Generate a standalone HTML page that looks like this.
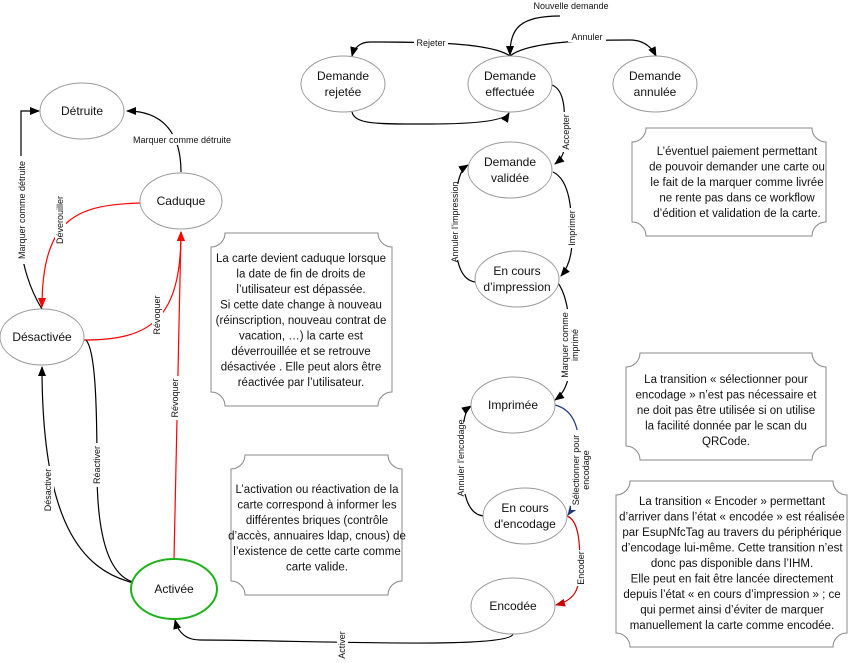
<!DOCTYPE html>
<html><head><meta charset="utf-8"><style>
html,body{margin:0;padding:0;background:#fff;}
svg{display:block;font-family:"Liberation Sans",sans-serif;}
.n{fill:#fff;stroke:#999;stroke-width:1;}
.t{font-size:12px;fill:#111;text-anchor:middle;}
.l{font-size:9px;fill:#111;text-anchor:middle;}
.c{fill:none;stroke:#000;stroke-width:1.2;}
.note{fill:#fff;stroke:#888;stroke-width:1;}
.nt{font-size:11.5px;fill:#111;text-anchor:middle;}
</style></head><body>
<svg width="862" height="663" viewBox="0 0 862 663" xmlns="http://www.w3.org/2000/svg">
<defs>
<marker id="ab" markerWidth="10" markerHeight="8" refX="9" refY="4" orient="auto" markerUnits="userSpaceOnUse"><path d="M0,0 L10,4 L0,8 z" fill="#000"/></marker>
<marker id="ar" markerWidth="10" markerHeight="8" refX="9" refY="4" orient="auto" markerUnits="userSpaceOnUse"><path d="M0,0 L10,4 L0,8 z" fill="#f00"/></marker>
<marker id="abl" markerWidth="10" markerHeight="8" refX="9" refY="4" orient="auto" markerUnits="userSpaceOnUse"><path d="M0,0 L10,4 L0,8 z" fill="#1f3a7a"/></marker>
<marker id="adr" markerWidth="10" markerHeight="8" refX="9" refY="4" orient="auto" markerUnits="userSpaceOnUse"><path d="M0,0 L10,4 L0,8 z" fill="#c00"/></marker>
</defs>

<!-- notes -->
<path class="note" d="M225,233 L378,233 A14,14 0 0 0 392,247 L392,392 A14,14 0 0 0 378,406 L225,406 A14,14 0 0 0 211,392 L211,247 A14,14 0 0 0 225,233 Z"/>
<path class="note" d="M646,128 L812,128 A14,14 0 0 0 826,142 L826,222 A14,14 0 0 0 812,236 L646,236 A14,14 0 0 0 632,222 L632,142 A14,14 0 0 0 646,128 Z"/>
<path class="note" d="M245,455 L388,455 A14,14 0 0 0 402,469 L402,581 A14,14 0 0 0 388,595 L245,595 A14,14 0 0 0 231,581 L231,469 A14,14 0 0 0 245,455 Z"/>
<path class="note" d="M640,353 L812,353 A14,14 0 0 0 826,367 L826,446 A14,14 0 0 0 812,460 L640,460 A14,14 0 0 0 626,446 L626,367 A14,14 0 0 0 640,353 Z"/>
<path class="note" d="M630,481 L833,481 A14,14 0 0 0 847,495 L847,633 A14,14 0 0 0 833,647 L630,647 A14,14 0 0 0 616,633 L616,495 A14,14 0 0 0 630,481 Z"/>

<g class="nt">
<text x="301" y="262">La carte devient caduque lorsque</text>
<text x="301" y="277.5">la date de fin de droits de</text>
<text x="301" y="293">l’utilisateur est dépassée.</text>
<text x="301" y="308.5">Si cette date change à nouveau</text>
<text x="301" y="324">(réinscription, nouveau contrat de</text>
<text x="301" y="339.5">vacation, …) la carte est</text>
<text x="301" y="355">déverrouillée et se retrouve</text>
<text x="301" y="370.5">désactivée . Elle peut alors être</text>
<text x="301" y="386">réactivée par l’utilisateur.</text>

<text x="737" y="155">L’éventuel paiement permettant</text>
<text x="737" y="170.5">de pouvoir demander une carte ou</text>
<text x="737" y="186">le fait de la marquer comme livrée</text>
<text x="737" y="201.5">ne rente pas dans ce workflow</text>
<text x="737" y="217">d’édition et validation de la carte.</text>

<text x="317" y="493">L’activation ou réactivation de la</text>
<text x="317" y="508.5">carte correspond à informer les</text>
<text x="317" y="524">différentes briques (contrôle</text>
<text x="317" y="539.5">d’accès, annuaires ldap, cnous) de</text>
<text x="317" y="555">l’existence de cette carte comme</text>
<text x="317" y="570.5">carte valide.</text>

<text x="726" y="383">La transition « sélectionner pour</text>
<text x="726" y="398.5">encodage » n’est pas nécessaire et</text>
<text x="726" y="414">ne doit pas être utilisée si on utilise</text>
<text x="726" y="429.5">la facilité donnée par le scan du</text>
<text x="726" y="445">QRCode.</text>

<text x="732" y="505">La transition « Encoder » permettant</text>
<text x="732" y="520.5">d’arriver dans l’état « encodée » est réalisée</text>
<text x="732" y="536">par EsupNfcTag au travers du périphérique</text>
<text x="732" y="551.5">d’encodage lui-même. Cette transition n’est</text>
<text x="732" y="567">donc pas disponible dans l’IHM.</text>
<text x="732" y="582.5">Elle peut en fait être lancée directement</text>
<text x="732" y="598">depuis l’état « en cours d’impression » ; ce</text>
<text x="732" y="613.5">qui permet ainsi d’éviter de marquer</text>
<text x="732" y="629">manuellement la carte comme encodée.</text>
</g>

<!-- connectors -->
<path class="c" d="M181,172 C181,130 160,111 127,111" marker-end="url(#ab)"/>
<path class="c" d="M42,309 C30,290 21,262 21,240 L21,111 L39,111" marker-end="url(#ab)"/>
<path class="c" style="stroke:#f00" d="M140,203 C80,205 42,215 42,307" marker-end="url(#ar)"/>
<path class="c" style="stroke:#f00" d="M84,340 C150,340 181,320 181,232" marker-end="url(#ar)"/>
<path class="c" style="stroke:#f00" d="M174,559 L181,232" marker-end="url(#ar)"/>
<path class="c" d="M86,340 C95,350 97,400 97,470 C97,540 110,575 133,582"/>
<path class="c" d="M134,583 C80,570 42,520 42,367" marker-end="url(#ab)"/>
<path class="c" d="M513,634 C510,650 300,640 200,640 C185,640 178,632 175,620" marker-end="url(#ab)"/>
<path class="c" d="M560,16 C520,16 510,28 510,55" marker-end="url(#ab)"/>
<path class="c" d="M510,56 C490,42 420,42 370,42 C360,42 354,48 352,56" marker-end="url(#ab)"/>
<path class="c" d="M510,56 C530,40 600,40 630,40 C645,40 652,48 656,56" marker-end="url(#ab)"/>
<path class="c" d="M352,112 C355,125 380,124 430,124 C480,124 505,120 509,113" marker-end="url(#ab)"/>
<path class="c" d="M552,85 C565,90 565,110 565,140 C565,155 560,160 555,164" marker-end="url(#ab)"/>
<path class="c" d="M553,172 C570,180 572,210 572,240 C572,260 566,270 561,276" marker-end="url(#ab)"/>
<path class="c" d="M475,282 C462,280 455,265 455,230 C455,180 460,170 468,165" marker-end="url(#ab)"/>
<path class="c" d="M558,283 C570,300 570,330 570,360 C570,385 562,395 555,400" marker-end="url(#ab)"/>
<path class="c" style="stroke:#1f3a7a" d="M555,405 C575,410 580,430 580,460 C580,490 575,505 568,515" marker-end="url(#abl)"/>
<path class="c" d="M484,516 C470,515 462,500 462,460 C462,420 465,410 471,406" marker-end="url(#ab)"/>
<path class="c" style="stroke:#c00" d="M567,516 C578,520 580,540 580,565 C580,590 575,600 556,605" marker-end="url(#adr)"/>

<!-- connector labels -->
<g class="l">
<rect x="128" y="134" width="108" height="11" fill="#fff"/><text x="182" y="143">Marquer comme détruite</text>
<g transform="translate(25,210) rotate(-90)"><rect x="-54" y="-8" width="108" height="11" fill="#fff"/><text x="0" y="0">Marquer comme détruite</text></g>
<g transform="translate(63,220) rotate(-90)"><rect x="-26" y="-8" width="52" height="11" fill="#fff"/><text x="0" y="0">Déverouiller</text></g>
<g transform="translate(160,315) rotate(-90)"><rect x="-22" y="-8" width="44" height="11" fill="#fff"/><text x="0" y="0">Révoquer</text></g>
<g transform="translate(178,398) rotate(-90)"><rect x="-22" y="-8" width="44" height="11" fill="#fff"/><text x="0" y="0">Révoquer</text></g>
<g transform="translate(100,465) rotate(-90)"><rect x="-22" y="-8" width="44" height="11" fill="#fff"/><text x="0" y="0">Réactiver</text></g>
<g transform="translate(51,490) rotate(-90)"><rect x="-24" y="-8" width="48" height="11" fill="#fff"/><text x="0" y="0">Désactiver</text></g>
<g transform="translate(345,645) rotate(-90)"><rect x="-18" y="-8" width="36" height="11" fill="#fff"/><text x="0" y="0">Activer</text></g>
<text x="571" y="9">Nouvelle demande</text>
<rect x="414" y="37" width="34" height="11" fill="#fff"/><text x="431" y="46">Rejeter</text>
<rect x="568" y="31" width="38" height="11" fill="#fff"/><text x="587" y="40">Annuler</text>
<g transform="translate(569,132) rotate(-90)"><rect x="-20" y="-8" width="40" height="11" fill="#fff"/><text x="0" y="0">Accepter</text></g>
<g transform="translate(575,228) rotate(-90)"><rect x="-20" y="-8" width="40" height="11" fill="#fff"/><text x="0" y="0">Imprimer</text></g>
<g transform="translate(458,222) rotate(-90)"><rect x="-38" y="-8" width="76" height="11" fill="#fff"/><text x="0" y="0">Annuler l’impression</text></g>
<g transform="translate(568,345) rotate(-90)"><rect x="-36" y="-8" width="72" height="21" fill="#fff"/><text x="0" y="0">Marquer comme</text><text x="0" y="10">imprimé</text></g>
<g transform="translate(579,470) rotate(-90)"><rect x="-40" y="-8" width="80" height="21" fill="#fff"/><text x="0" y="0">Sélectionner pour</text><text x="0" y="10">encodage</text></g>
<g transform="translate(464,458) rotate(-90)"><rect x="-36" y="-8" width="72" height="11" fill="#fff"/><text x="0" y="0">Annuler l’encodage</text></g>
<g transform="translate(584,568) rotate(-90)"><rect x="-18" y="-8" width="36" height="11" fill="#fff"/><text x="0" y="0">Encoder</text></g>
</g>

<!-- nodes -->
<ellipse class="n" cx="82" cy="111" rx="42" ry="28"/><text class="t" x="82" y="115">Détruite</text>
<ellipse class="n" cx="181" cy="201" rx="41" ry="28"/><text class="t" x="181" y="205">Caduque</text>
<ellipse class="n" cx="42" cy="337" rx="42" ry="28"/><text class="t" x="42" y="341">Désactivée</text>
<ellipse cx="174" cy="589" rx="43" ry="30" fill="#fff" stroke="#1db31d" stroke-width="2"/><text class="t" x="174" y="593">Activée</text>
<ellipse class="n" cx="343" cy="84" rx="42" ry="28"/><text class="t" x="343" y="80">Demande</text><text class="t" x="343" y="96">rejetée</text>
<ellipse class="n" cx="510" cy="84" rx="42" ry="28"/><text class="t" x="510" y="80">Demande</text><text class="t" x="510" y="96">effectuée</text>
<ellipse class="n" cx="655" cy="84" rx="42" ry="28"/><text class="t" x="655" y="80">Demande</text><text class="t" x="655" y="96">annulée</text>
<ellipse class="n" cx="510" cy="170" rx="42" ry="28"/><text class="t" x="510" y="166">Demande</text><text class="t" x="510" y="182">validée</text>
<ellipse class="n" cx="517" cy="279" rx="42" ry="28"/><text class="t" x="517" y="275">En cours</text><text class="t" x="517" y="291">d’impression</text>
<ellipse class="n" cx="513" cy="405" rx="42" ry="28"/><text class="t" x="513" y="409">Imprimée</text>
<ellipse class="n" cx="525" cy="516" rx="42" ry="28"/><text class="t" x="525" y="512">En cours</text><text class="t" x="525" y="528">d'encodage</text>
<ellipse class="n" cx="513" cy="606" rx="42" ry="28"/><text class="t" x="513" y="610">Encodée</text>
</svg>
</body></html>
